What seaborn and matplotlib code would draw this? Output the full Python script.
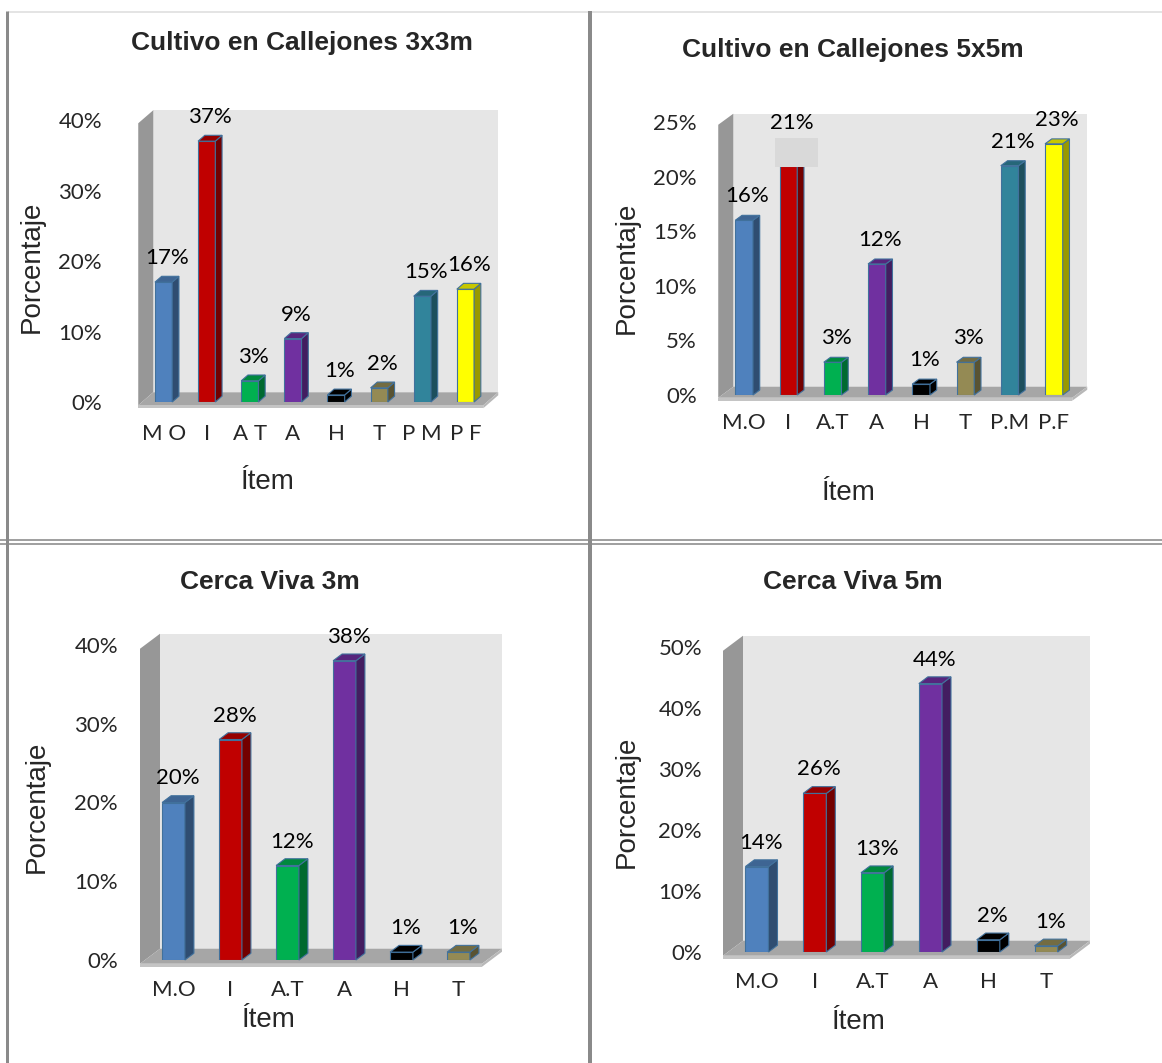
import numpy as np
import pandas as pd
import matplotlib
matplotlib.use("Agg")
import matplotlib.pyplot as plt
import seaborn as sns
from matplotlib.patches import Polygon, Rectangle
from matplotlib.lines import Line2D
from matplotlib.colors import to_rgb

# ---- data -------------------------------------------------------------
items_callejones_3x3 = ["M O", "I", "A T", "A", "H", "T", "P M", "P F"]
items_callejones_5x5 = ["M.O", "I", "A.T", "A", "H", "T", "P.M", "P.F"]
items_cerca = ["M.O", "I", "A.T", "A", "H", "T"]

pct_callejones_3x3 = [17, 37, 3, 9, 1, 2, 15, 16]
pct_callejones_5x5 = [16, 21, 3, 12, 1, 3, 21, 23]
pct_cerca_3m = [20, 28, 12, 38, 1, 1]
pct_cerca_5m = [14, 26, 13, 44, 2, 1]

item_colors = ["#4f81bd", "#c00000", "#00b050", "#7030a0",
               "#000000", "#948a54", "#31849b", "#ffff00"]

titles = ["Cultivo en Callejones 3x3m", "Cultivo en Callejones 5x5m",
          "Cerca Viva 3m", "Cerca Viva 5m"]
y_max = [40, 25, 40, 50]
y_step = [10, 5, 10, 10]

# ---- figure / style ---------------------------------------------------
W, H = 1162, 1063
sns.set_style("white")
plt.rcParams["font.family"] = ["Lato", "DejaVu Sans"]

fig = plt.figure(figsize=(W / 100, H / 100), dpi=100)
fig.patch.set_facecolor("white")

PX2PT = 0.72
TICK_FS = 16
AXLABEL_FS = 20
LABEL_FONT = ["Liberation Sans", "DejaVu Sans"]

# pixel layout of each panel: bar plane (left, right, baseline y, top y)
layouts = [
    dict(plane=(142, 487, 402, 120), depth=(15, 13), ypad=40, xpad=22,
         title=(302, 43), xlabel=(267, 482), ylabel=(32, 267)),
    dict(plane=(722, 1076, 395, 122), depth=(15, 11), ypad=25, xpad=18,
         title=(853, 50), xlabel=(848, 493), ylabel=(627, 268)),
    dict(plane=(145, 487, 960, 645), depth=(20, 15), ypad=27, xpad=20,
         title=(270, 582), xlabel=(268, 1020), ylabel=(37, 807)),
    dict(plane=(728, 1075, 952, 647), depth=(20, 15), ypad=26, xpad=20,
         title=(853, 582), xlabel=(858, 1022), ylabel=(627, 802)),
]

BACK, FRONT = 0.75, 0.25
EDGE = "#41719c"


def draw_panel(items, values, title, ymax, ystep, lay, boxed_bar=None):
    l, r, y0, yt = lay["plane"]
    ax = fig.add_axes([l / W, 1 - y0 / H, (r - l) / W, (y0 - yt) / H])
    ax.set_facecolor("none")

    df = pd.DataFrame({"item": items, "pct": values})
    pal = dict(zip(items, item_colors[:len(items)]))
    sns.barplot(data=df, x="item", y="pct", hue="item", palette=pal,
                dodge=False, width=0.4, saturation=1, edgecolor=EDGE,
                linewidth=0.8, legend=False, ax=ax, zorder=3)
    bars = list(ax.patches)

    n = len(items)
    ax.set_xlim(-0.5, n - 0.5)
    ax.set_ylim(0, ymax)

    # pixel -> data scale factors
    sx = (r - l) / n
    sy = (y0 - yt) / ymax
    dx, dy = lay["depth"]
    ddx, ddy = dx / sx, dy / sy
    xa, xb = -0.5, n - 0.5

    # back wall
    ax.add_patch(Rectangle((xa + BACK * ddx, BACK * ddy), n, ymax,
                           fc="#e6e6e6", ec="none", zorder=0.5, clip_on=False))
    # side wall
    ax.add_patch(Polygon([(xa - FRONT * ddx, -FRONT * ddy),
                          (xa - FRONT * ddx, ymax - FRONT * ddy),
                          (xa + BACK * ddx, ymax + BACK * ddy),
                          (xa + BACK * ddx, BACK * ddy)],
                         closed=True, fc="#979797", ec="none",
                         zorder=0.6, clip_on=False))
    # floor
    t = 3 / sy
    ax.add_patch(Polygon([(xa - FRONT * ddx, -FRONT * ddy),
                          (xb - FRONT * ddx, -FRONT * ddy),
                          (xb + BACK * ddx, BACK * ddy),
                          (xa + BACK * ddx, BACK * ddy)],
                         closed=True, fc="#a6a6a6", ec="none",
                         zorder=0.7, clip_on=False))
    ax.add_patch(Rectangle((xa - FRONT * ddx, -FRONT * ddy - t), n, t,
                           fc="#c4c4c4", ec="none", zorder=0.7, clip_on=False))
    ax.add_patch(Polygon([(xb - FRONT * ddx, -FRONT * ddy - t),
                          (xb + BACK * ddx, BACK * ddy - t),
                          (xb + BACK * ddx, BACK * ddy),
                          (xb - FRONT * ddx, -FRONT * ddy)],
                         closed=True, fc="#b8b8b8", ec="none",
                         zorder=0.7, clip_on=False))

    # 3-D faces and value labels for each bar
    bdx, bdy = 0.45 * ddx, 0.45 * ddy
    for i, p in enumerate(bars):
        x0, w, h = p.get_x(), p.get_width(), p.get_height()
        base = np.array(to_rgb(p.get_facecolor()))
        side = base * 0.6
        top = base * 0.78
        ax.add_patch(Polygon([(x0 + w, 0), (x0 + w + bdx, bdy),
                              (x0 + w + bdx, h + bdy), (x0 + w, h)],
                             closed=True, fc=side, ec=EDGE, lw=0.8,
                             zorder=3.1, clip_on=False))
        ax.add_patch(Polygon([(x0, h), (x0 + w, h),
                              (x0 + w + bdx, h + bdy), (x0 + bdx, h + bdy)],
                             closed=True, fc=top, ec=EDGE, lw=0.8,
                             zorder=3.2, clip_on=False))
        off_px = 24
        if boxed_bar == i:
            box_h = 29
            ax.add_patch(Rectangle((x0 - 5 / sx, h - 1 / sy),
                                   w + 26 / sx, box_h / sy,
                                   fc="#d9d9d9", ec="none", zorder=4,
                                   clip_on=False))
            off_px = box_h + 14
        ax.annotate(f"{h:.0f}%", xy=(x0 + w / 2 + bdx / 2, h),
                    xytext=(0, off_px * PX2PT), textcoords="offset points",
                    ha="center", va="center", fontsize=TICK_FS,
                    color="black", zorder=5, annotation_clip=False)

    # axes decoration
    for s in ax.spines.values():
        s.set_visible(False)
    ticks = np.arange(0, ymax + ystep, ystep)
    ax.set_yticks(ticks)
    ax.set_yticklabels([f"{v:.0f}%" for v in ticks])
    ax.tick_params(axis="y", length=0, pad=lay["ypad"] * PX2PT,
                   labelsize=TICK_FS)
    ax.tick_params(axis="x", length=0, pad=lay["xpad"] * PX2PT,
                   labelsize=TICK_FS)
    ax.grid(False)

    def to_axes(px, py):
        return (px - l) / (r - l), (y0 - py) / (y0 - yt)

    ax.set_xlabel("Ítem", fontsize=AXLABEL_FS, family=LABEL_FONT)
    ax.xaxis.set_label_coords(*to_axes(*lay["xlabel"]))
    ax.xaxis.label.set_va("center")
    ax.set_ylabel("Porcentaje", fontsize=AXLABEL_FS, family=LABEL_FONT)
    ax.yaxis.set_label_coords(*to_axes(*lay["ylabel"]))
    ax.yaxis.label.set_va("center")
    ax.yaxis.label.set_ha("center")

    tx, ty = to_axes(*lay["title"])
    ax.text(tx, ty, title, transform=ax.transAxes, ha="center", va="center",
            fontsize=19, fontweight="bold", family=LABEL_FONT)
    return ax


draw_panel(items_callejones_3x3, pct_callejones_3x3, titles[0],
           y_max[0], y_step[0], layouts[0])
draw_panel(items_callejones_5x5, pct_callejones_5x5, titles[1],
           y_max[1], y_step[1], layouts[1], boxed_bar=1)
draw_panel(items_cerca, pct_cerca_3m, titles[2],
           y_max[2], y_step[2], layouts[2])
draw_panel(items_cerca, pct_cerca_5m, titles[3],
           y_max[3], y_step[3], layouts[3])


# ---- panel frame lines --------------------------------------------------
def fig_line(xs, ys, lw_px, color):
    fig.add_artist(Line2D([x / W for x in xs], [1 - y / H for y in ys],
                          transform=fig.transFigure, lw=lw_px * PX2PT,
                          color=color, solid_capstyle="butt"))


fig_line([8, W], [12, 12], 1.5, "#dcdcdc")
fig_line([7, 7], [11, H], 3, "#8a8a8a")
fig_line([0, W], [540, 540], 1.6, "#8a8a8a")
fig_line([0, W], [543.8, 543.8], 1.6, "#8a8a8a")
fig_line([590, 590], [11, H], 4, "#8a8a8a")

fig.savefig("out.png", dpi=100, facecolor="white")
